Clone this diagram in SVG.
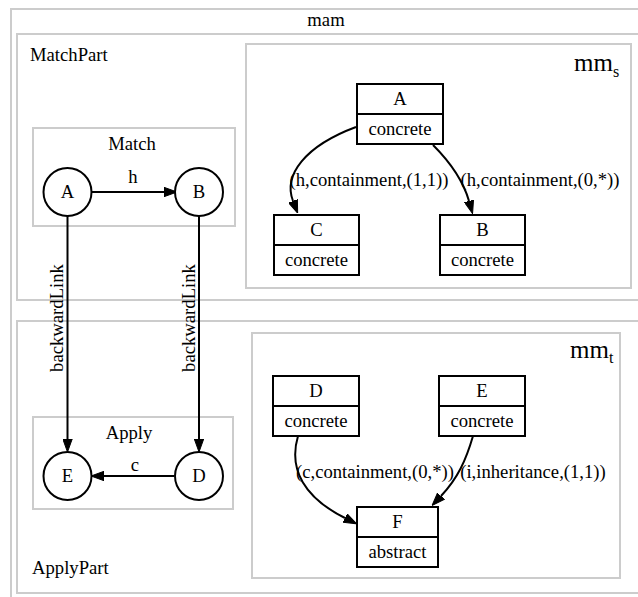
<svg xmlns="http://www.w3.org/2000/svg" width="638" height="597" viewBox="0 0 638 597">
<style>
text{font-family:"Liberation Serif","Times New Roman",serif;font-size:18.67px;fill:#000}
.mid{text-anchor:middle}
.cl{fill:none;stroke:#cccccc;stroke-width:2}
.nd{fill:#fff;stroke:#000;stroke-width:2}
.ln{fill:none;stroke:#000;stroke-width:2}
.big{font-size:25px}
</style>
<defs>
<marker id="arr" viewBox="0 0 13 10" refX="0" refY="5" markerWidth="13" markerHeight="10" markerUnits="userSpaceOnUse" orient="auto">
<path d="M0,0.3 L13,5 L0,9.7 z" fill="#000" stroke="#000" stroke-width="1"/>
</marker>
</defs>
<rect width="638" height="597" fill="#fff"/>
<g id="clusters">
<g id="mam"><rect class="cl" x="11" y="9" width="650" height="620"/><text class="mid" x="326" y="26">mam</text></g>
<g id="MatchPart"><rect class="cl" x="17" y="34" width="650" height="266"/><text x="30" y="61">MatchPart</text></g>
<g id="ApplyPart"><rect class="cl" x="17" y="321" width="650" height="272"/><text x="32" y="574">ApplyPart</text></g>
<g id="mm_s"><rect class="cl" x="246" y="44" width="385" height="244"/><text class="big" x="574" y="71">mm<tspan dy="6" font-size="16">s</tspan></text></g>
<g id="mm_t"><rect class="cl" x="252" y="333" width="368" height="245"/><text class="big" x="570" y="358">mm<tspan dy="5" font-size="16">t</tspan></text></g>
<g id="Match"><rect class="cl" x="33" y="128" width="202" height="98"/><text class="mid" x="132" y="150">Match</text></g>
<g id="Apply"><rect class="cl" x="33" y="417" width="200" height="92"/><text class="mid" x="129" y="439">Apply</text></g>
</g>
<g id="connectors">
<path class="ln" d="M92,192 L164,192" marker-end="url(#arr)"/>
<text class="mid" x="133" y="183">h</text>
<path class="ln" d="M174,476 L104,476" marker-end="url(#arr)"/>
<text class="mid" x="135" y="471">c</text>
<path class="ln" d="M67.5,216 L67.5,439" marker-end="url(#arr)"/>
<text class="mid" transform="translate(63,318) rotate(-90)">backwardLink</text>
<path class="ln" d="M199,216 L199,439" marker-end="url(#arr)"/>
<text class="mid" transform="translate(195,318) rotate(-90)">backwardLink</text>
<path class="ln" d="M356,127 C305,146 283,175 293,201" marker-end="url(#arr)"/>
<text class="mid" x="369" y="186">(h,containment,(1,1))</text>
<path class="ln" d="M433,145 C450,162 463,180 469,201" marker-end="url(#arr)"/>
<text class="mid" x="540" y="186">(h,containment,(0,*))</text>
<path class="ln" d="M298,436 C288,470 305,498 345,518" marker-end="url(#arr)"/>
<text class="mid" x="375" y="478">(c,containment,(0,*))</text>
<path class="ln" d="M473,436 C466,460 458,478 441,496" marker-end="url(#arr)"/>
<text class="mid" x="533" y="478">(i,inheritance,(1,1))</text>
</g>
<g id="node_A_match"><circle class="nd" cx="67.5" cy="192" r="24"/><text class="mid" x="67.5" y="198">A</text></g>
<g id="node_B_match"><circle class="nd" cx="199" cy="192" r="24"/><text class="mid" x="199" y="198">B</text></g>
<g id="node_E_apply"><circle class="nd" cx="67.5" cy="476" r="24"/><text class="mid" x="67.5" y="482">E</text></g>
<g id="node_D_apply"><circle class="nd" cx="199" cy="476" r="24"/><text class="mid" x="199" y="482">D</text></g>
<g id="node_A"><rect class="nd" x="357" y="84" width="86" height="60"/><line class="ln" x1="357" y1="114" x2="443" y2="114"/><text class="mid" x="400" y="105">A</text><text class="mid" x="400" y="135">concrete</text></g>
<g id="node_C"><rect class="nd" x="274" y="215" width="85" height="60"/><line class="ln" x1="274" y1="245" x2="359" y2="245"/><text class="mid" x="316.5" y="236">C</text><text class="mid" x="316.5" y="266">concrete</text></g>
<g id="node_B"><rect class="nd" x="440" y="215" width="85" height="60"/><line class="ln" x1="440" y1="245" x2="525" y2="245"/><text class="mid" x="482.5" y="236">B</text><text class="mid" x="482.5" y="266">concrete</text></g>
<g id="node_D"><rect class="nd" x="273" y="376" width="86" height="60"/><line class="ln" x1="273" y1="406" x2="359" y2="406"/><text class="mid" x="316" y="397">D</text><text class="mid" x="316" y="427">concrete</text></g>
<g id="node_E"><rect class="nd" x="439" y="376" width="86" height="60"/><line class="ln" x1="439" y1="406" x2="525" y2="406"/><text class="mid" x="482" y="397">E</text><text class="mid" x="482" y="427">concrete</text></g>
<g id="node_F"><rect class="nd" x="357" y="507" width="81" height="60"/><line class="ln" x1="357" y1="537" x2="438" y2="537"/><text class="mid" x="397.5" y="528">F</text><text class="mid" x="397.5" y="558">abstract</text></g>
</svg>
